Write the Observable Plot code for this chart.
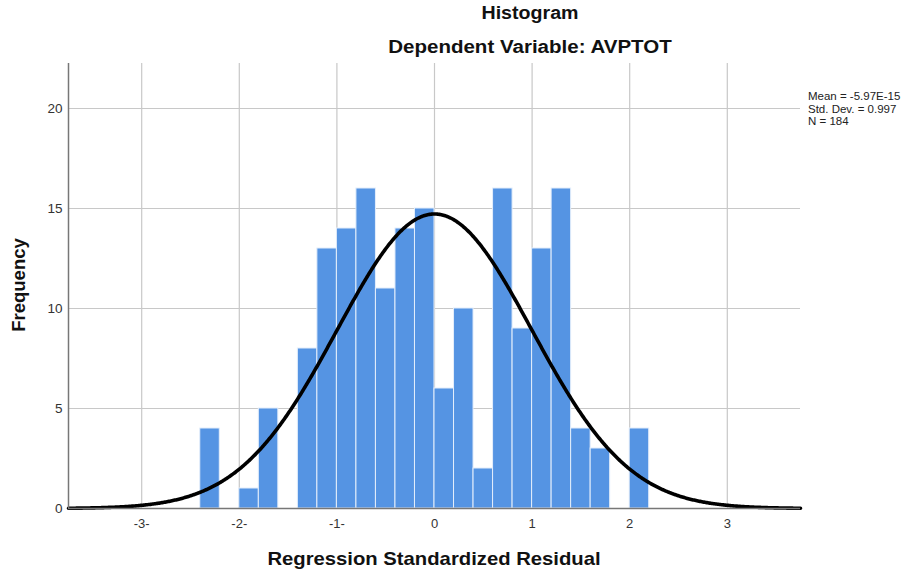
<!DOCTYPE html>
<html><head><meta charset="utf-8">
<script src="https://cdn.jsdelivr.net/npm/d3@7"></script>
<script src="https://cdn.jsdelivr.net/npm/@observablehq/plot@0.6"></script>
<style>
body{margin:0;background:#fff;font-family:"Liberation Sans",Arial,sans-serif;}
#wrap{position:relative;width:921px;height:574px;}
.t{position:absolute;font-weight:bold;color:#111;white-space:nowrap;}
#legend{position:absolute;left:808px;top:90px;font-size:11.5px;line-height:12.5px;color:#222;}
</style></head>
<body>
<div id="wrap">
  <div class="t" style="left:0;width:1060px;text-align:center;top:3px;font-size:18px;transform:scaleX(1.09);">Histogram</div>
  <div class="t" style="left:0;width:1060px;text-align:center;top:37px;font-size:18px;transform:scaleX(1.14);">Dependent Variable: AVPTOT</div>
  <div class="t" style="left:0;width:868px;text-align:center;top:548px;font-size:18.5px;transform:scaleX(1.095);">Regression Standardized Residual</div>
  <div class="t" style="left:19px;top:285px;font-size:18.5px;transform:translate(-50%,-50%) rotate(-90deg);">Frequency</div>
  <div id="legend">Mean = -5.97E-15<br>Std. Dev. = 0.997<br>N = 184</div>
</div>
<script>
// histogram bins (lower edges), width 0.2
const binStarts = [-2.4,-2.2,-2.0,-1.8,-1.6,-1.4,-1.2,-1.0,-0.8,-0.6,-0.4,-0.2,0.0,0.2,0.4,0.6,0.8,1.0,1.2,1.4,1.6,1.8,2.0];
const counts    = [4,   0,   1,   5,   0,   8,   13,  14,  16,  11,  14,  15,  6,  10,  2,  16, 9,  13, 16, 4,  3,  0,  4];
const binWidth = 0.2;
const xTickValues = [-3,-2,-1,0,1,2,3];
const xTickLabels = ["-3-","-2-","-1-","0","1","2","3"];
const yTickValues = [0,5,10,15,20];
const meanVal = -5.97e-15, sdVal = 0.997, nVal = 184;

const bars = binStarts.map((b,i)=>({x1:b, x2:b+binWidth, y:counts[i]})).filter(d=>d.y>0);
const curve = d3.range(-3.75, 3.7501, 0.01).map(x=>({x, y: nVal*binWidth*Math.exp(-0.5*((x-meanVal)/sdVal)**2)/(sdVal*Math.sqrt(2*Math.PI))}));

const chart = Plot.plot({
  width: 921, height: 574,
  marginLeft: 68, marginRight: 121, marginTop: 63, marginBottom: 66,
  style: {fontFamily: '"Liberation Sans",Arial,sans-serif', background: "white"},
  x: {domain: [-3.75, 3.75], label: null},
  y: {domain: [0, 22.25], label: null},
  marks: [
    Plot.ruleX(xTickValues, {stroke: "#c8c8c8", strokeWidth: 1.2}),
    Plot.ruleY(yTickValues, {stroke: "#c8c8c8", strokeWidth: 1.2}),
    Plot.rectY(bars, {x1: "x1", x2: "x2", y: "y", fill: "#5594e3", stroke: "#e4eefb", strokeWidth: 1}),
    Plot.line(curve, {x: "x", y: "y", stroke: "#000", strokeWidth: 3.6}),
    Plot.ruleX([-3.75], {stroke: "#777", strokeWidth: 1.5}),
    Plot.ruleY([0], {stroke: "#777", strokeWidth: 1.5}),
    Plot.axisX(xTickValues, {tickFormat: (d,i)=>xTickLabels[i], tickSize: 0, tickPadding: 10, fontSize: 13, color: "#333"}),
    Plot.axisY(yTickValues, {tickSize: 0, tickPadding: 6, fontSize: 13.5, color: "#333"})
  ]
});
document.getElementById("wrap").prepend(chart);
chart.style.position = "absolute"; chart.style.left = "0"; chart.style.top = "0";
</script>
</body></html>
